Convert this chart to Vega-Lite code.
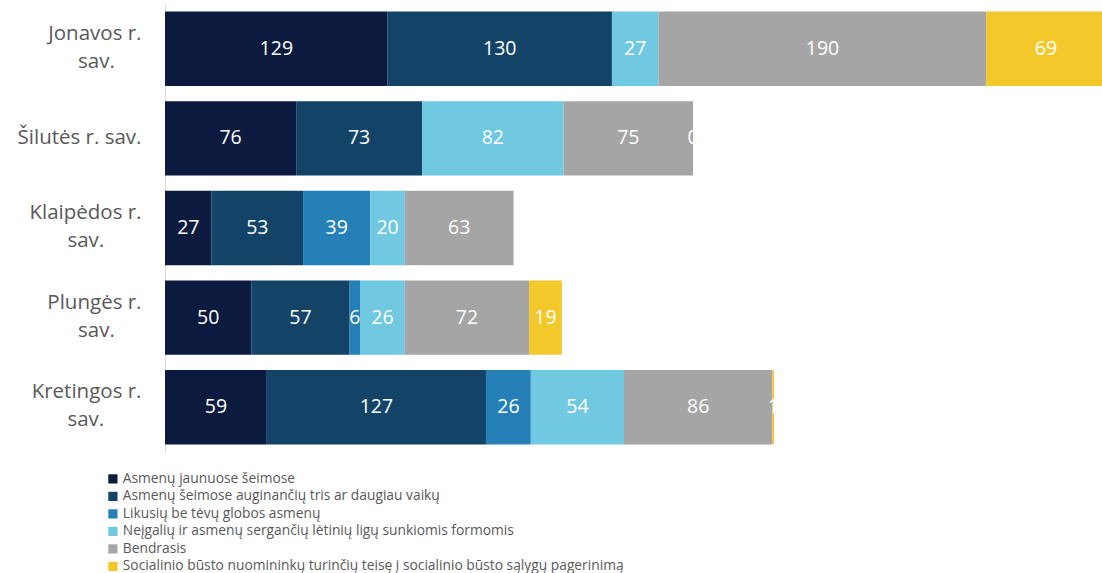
{
  "$schema": "https://vega.github.io/schema/vega-lite/v6.json",
  "autosize": "none",
  "width": 937,
  "height": 448,
  "padding": {"left": 165, "top": 4, "right": 0, "bottom": 121},
  "background": "white",
  "config": {"view": {"stroke": null}, "font": "Open Sans"},
  "data": {
    "values": [
      {"sav": "Jonavos r. sav.", "k": 1, "grupe": "Asmenų jaunuose šeimose", "v": 129},
      {"sav": "Jonavos r. sav.", "k": 2, "grupe": "Asmenų šeimose auginančių tris ar daugiau vaikų", "v": 130},
      {"sav": "Jonavos r. sav.", "k": 4, "grupe": "Neįgalių ir asmenų sergančių lėtinių ligų sunkiomis formomis", "v": 27},
      {"sav": "Jonavos r. sav.", "k": 5, "grupe": "Bendrasis", "v": 190},
      {"sav": "Jonavos r. sav.", "k": 6, "grupe": "Socialinio būsto nuomininkų turinčių teisę į socialinio būsto sąlygų pagerinimą", "v": 69},
      {"sav": "Šilutės r. sav.", "k": 1, "grupe": "Asmenų jaunuose šeimose", "v": 76},
      {"sav": "Šilutės r. sav.", "k": 2, "grupe": "Asmenų šeimose auginančių tris ar daugiau vaikų", "v": 73},
      {"sav": "Šilutės r. sav.", "k": 4, "grupe": "Neįgalių ir asmenų sergančių lėtinių ligų sunkiomis formomis", "v": 82},
      {"sav": "Šilutės r. sav.", "k": 5, "grupe": "Bendrasis", "v": 75},
      {"sav": "Šilutės r. sav.", "k": 6, "grupe": "Socialinio būsto nuomininkų turinčių teisę į socialinio būsto sąlygų pagerinimą", "v": 0},
      {"sav": "Klaipėdos r. sav.", "k": 1, "grupe": "Asmenų jaunuose šeimose", "v": 27},
      {"sav": "Klaipėdos r. sav.", "k": 2, "grupe": "Asmenų šeimose auginančių tris ar daugiau vaikų", "v": 53},
      {"sav": "Klaipėdos r. sav.", "k": 3, "grupe": "Likusių be tėvų globos asmenų", "v": 39},
      {"sav": "Klaipėdos r. sav.", "k": 4, "grupe": "Neįgalių ir asmenų sergančių lėtinių ligų sunkiomis formomis", "v": 20},
      {"sav": "Klaipėdos r. sav.", "k": 5, "grupe": "Bendrasis", "v": 63},
      {"sav": "Plungės r. sav.", "k": 1, "grupe": "Asmenų jaunuose šeimose", "v": 50},
      {"sav": "Plungės r. sav.", "k": 2, "grupe": "Asmenų šeimose auginančių tris ar daugiau vaikų", "v": 57},
      {"sav": "Plungės r. sav.", "k": 3, "grupe": "Likusių be tėvų globos asmenų", "v": 6},
      {"sav": "Plungės r. sav.", "k": 4, "grupe": "Neįgalių ir asmenų sergančių lėtinių ligų sunkiomis formomis", "v": 26},
      {"sav": "Plungės r. sav.", "k": 5, "grupe": "Bendrasis", "v": 72},
      {"sav": "Plungės r. sav.", "k": 6, "grupe": "Socialinio būsto nuomininkų turinčių teisę į socialinio būsto sąlygų pagerinimą", "v": 19},
      {"sav": "Kretingos r. sav.", "k": 1, "grupe": "Asmenų jaunuose šeimose", "v": 59},
      {"sav": "Kretingos r. sav.", "k": 2, "grupe": "Asmenų šeimose auginančių tris ar daugiau vaikų", "v": 127},
      {"sav": "Kretingos r. sav.", "k": 3, "grupe": "Likusių be tėvų globos asmenų", "v": 26},
      {"sav": "Kretingos r. sav.", "k": 4, "grupe": "Neįgalių ir asmenų sergančių lėtinių ligų sunkiomis formomis", "v": 54},
      {"sav": "Kretingos r. sav.", "k": 5, "grupe": "Bendrasis", "v": 86},
      {"sav": "Kretingos r. sav.", "k": 6, "grupe": "Socialinio būsto nuomininkų turinčių teisę į socialinio būsto sąlygų pagerinimą", "v": 1}
    ]
  },
  "transform": [
    {"stack": "v", "groupby": ["sav"], "sort": [{"field": "k", "order": "ascending"}], "as": ["x0", "x1"]},
    {"calculate": "(datum.x0 + datum.x1) / 2", "as": "xm"}
  ],
  "encoding": {
    "y": {
      "field": "sav",
      "type": "nominal",
      "sort": ["Jonavos r. sav.", "Šilutės r. sav.", "Klaipėdos r. sav.", "Plungės r. sav.", "Kretingos r. sav."],
      "scale": {"paddingInner": 0.17, "paddingOuter": 0.085},
      "axis": {
        "title": null,
        "ticks": false,
        "domain": true,
        "domainColor": "#d9d9d9",
        "domainWidth": 1,
        "labelFontSize": 20.5,
        "labelColor": "#595959",
        "labelPadding": 24,
        "labelLineHeight": 28,
        "labelLimit": 200,
        "labelOffset": {"condition": {"test": "datum.value == 'Šilutės r. sav.'", "value": 0}, "value": -15},
        "labelExpr": "datum.value == 'Šilutės r. sav.' ? datum.value : [replace(datum.value, ' sav.', ''), pad('sav.', 4 + round((length(datum.value) - 9) * 0.85), '\u00a0', 'right') + '\u200b']"
      }
    }
  },
  "layer": [
    {
      "mark": {"type": "bar"},
      "encoding": {
        "x": {"field": "x0", "type": "quantitative", "scale": {"domain": [0, 543], "nice": false, "zero": true}, "axis": null},
        "x2": {"field": "x1"},
        "color": {
          "field": "grupe",
          "type": "nominal",
          "scale": {
            "domain": [
              "Asmenų jaunuose šeimose",
              "Asmenų šeimose auginančių tris ar daugiau vaikų",
              "Likusių be tėvų globos asmenų",
              "Neįgalių ir asmenų sergančių lėtinių ligų sunkiomis formomis",
              "Bendrasis",
              "Socialinio būsto nuomininkų turinčių teisę į socialinio būsto sąlygų pagerinimą"
            ],
            "range": ["#0b1a3e", "#134468", "#2580b8", "#70c8e1", "#a5a5a5", "#f2c82a"]
          },
          "legend": {
            "title": null,
            "orient": "none",
            "legendX": -59,
            "legendY": 468,
            "direction": "vertical",
            "symbolType": "square",
            "symbolSize": 85,
            "symbolStrokeWidth": 0,
            "labelFontSize": 13.8,
            "labelColor": "#595959",
            "labelOffset": 3,
            "labelLimit": 700,
            "rowPadding": 2.5
          }
        }
      }
    },
    {
      "mark": {"type": "text", "color": "white", "fontSize": 19.5, "align": "center", "baseline": "middle"},
      "encoding": {
        "x": {"field": "xm", "type": "quantitative"},
        "text": {"field": "v", "type": "quantitative"}
      }
    }
  ]
}
